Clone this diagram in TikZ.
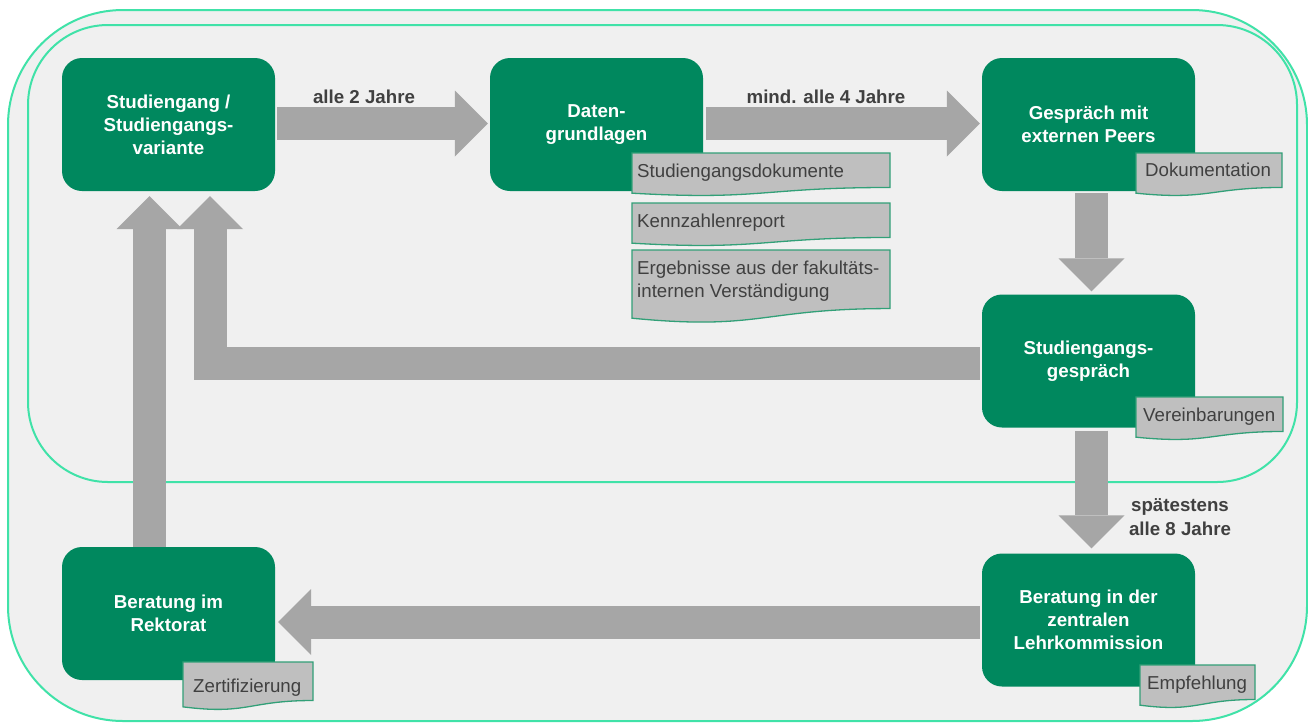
\documentclass[tikz,border=0pt]{standalone}
\usepackage{fontspec}
\setmainfont{Liberation Sans}
\usetikzlibrary{arrows.meta,calc}
\definecolor{boxgreen}{RGB}{0,136,94}
\definecolor{arrowgray}{RGB}{166,166,166}
\definecolor{docgray}{RGB}{191,191,191}
\definecolor{docline}{RGB}{50,160,120}
\definecolor{framecol}{RGB}{64,226,168}
\definecolor{bgcol}{RGB}{240,240,240}
\definecolor{textgray}{RGB}{64,64,64}
\pgfdeclarelayer{framelayer}
\pgfdeclarelayer{arrowlayer}
\pgfsetlayers{framelayer,arrowlayer,main}
\newcommand\fsz{\fontsize{18.7}{23}\selectfont}
\newcommand\docshape[4]{%
  \filldraw[docstyle] (#1,#2) -- (#3,#2) -- (#3,{#2+0.802*#4})
    .. controls ({(#1+#3)/2},{#2+0.802*#4}) and ({(#1+#3)/2},{#2+1.107*#4}) .. (#1,{#2+0.934*#4}) -- cycle;}
\tikzset{
  greenbox/.style={fill=boxgreen, rounded corners=20pt, minimum width=213pt, minimum height=133pt,
    text=white, font=\fsz\bfseries, align=center, inner sep=0pt},
  blockarrow/.style={draw=arrowgray, line width=33pt, line join=miter,
    -{Triangle[length=33pt,width=66pt,line width=0pt]}},
  docstyle/.style={fill=docgray, draw=docline, line width=1.3pt},
  doctext/.style={text=textgray, font=\fsz, inner sep=0pt, anchor=base west, align=left},
  lbl/.style={text=textgray, font=\fsz\bfseries, inner sep=0pt, align=center},
  frame/.style={draw=framecol, line width=2pt}
}
\begin{document}
\begin{tikzpicture}[x=1pt,y=-1pt]
\useasboundingbox (0,0) rectangle (1308,724);
\begin{pgfonlayer}{framelayer}
\fill[white] (0,0) rectangle (1308,724);
\filldraw[frame, fill=bgcol, rounded corners=115pt] (8,10) rectangle (1307,721);
\draw[frame, rounded corners=80pt] (28,25) rectangle (1297,482);
\end{pgfonlayer}

% boxes
\node[greenbox] (b1) at (168.5,124.5) {Studiengang /\\Studiengangs-\\variante};
\node[greenbox] (b2) at (596.5,124.5) {Daten-\\grundlagen};
\node[greenbox] (b3) at (1088.5,124.5) {Gespräch mit\\externen Peers};
\node[greenbox] (b4) at (1088.5,361) {Studiengangs-\\gespräch};
\node[greenbox] (b5) at (1088.5,620) {Beratung in der\\zentralen\\Lehrkommission};
\node[greenbox] (b6) at (168.5,613.5) {Beratung im\\Rektorat};

% arrows (behind boxes)
\begin{pgfonlayer}{arrowlayer}
\draw[blockarrow, shorten <=2pt, shorten >=2pt] ([yshift=1pt]b1.east) -- ([yshift=1pt]b2.west);
\draw[blockarrow, shorten <=3pt, shorten >=2pt] ([yshift=1pt]b2.east) -- ([yshift=1pt]b3.west);
\draw[blockarrow, shorten <=2pt, shorten >=3pt] ([xshift=3pt]b3.south) -- ([xshift=3pt]b4.north);
\draw[blockarrow, shorten <=3pt, shorten >=5pt] ([xshift=3pt]b4.south) -- ([xshift=3pt]b5.north);
\draw[blockarrow, shorten <=2pt, shorten >=3pt] ([yshift=-2pt]b5.west) -- ([yshift=-2pt]b5.west -| b6.east);
\draw[blockarrow, shorten >=5pt] ([xshift=-19pt]b6.north) -- ([xshift=-19pt]b1.south);
\draw[blockarrow, shorten <=2pt, shorten >=5pt] ([yshift=-2.5pt]b4.west) -| ([xshift=41.5pt]b1.south);
\end{pgfonlayer}

% documents
\docshape{632}{153}{890}{43}
\docshape{632}{203}{890}{43}
\docshape{632}{250}{890}{73}
\docshape{1136}{153}{1282}{43}
\docshape{1136}{397}{1283}{43}
\docshape{183}{662}{313}{48}
\docshape{1140}{665}{1255}{43}
\node[doctext] (t1) at (637,177) {Studiengangsdokumente};
\node[doctext] (t2) at (637,227) {Kennzahlenreport};
\node[doctext, anchor=north west] (t3) at (637,261) {Ergebnisse aus der fakultäts-\\internen Verständigung};
\node[doctext] (t4) at (1145,176) {Dokumentation};
\node[doctext] (t5) at (1143,421) {Vereinbarungen};
\node[doctext] (t6) at (193,692) {Zertifizierung};
\node[doctext] (t7) at (1147,689) {Empfehlung};

% labels
\node[lbl, anchor=base] (l1) at (364,103) {alle 2 Jahre};
\node[lbl, anchor=base] (l2) at (826,103) {mind. alle 4 Jahre};
\node[lbl, font=\fontsize{18.7}{24}\selectfont\bfseries] (l3) at (1180,517) {spätestens\\alle 8 Jahre};
\end{tikzpicture}
\end{document}
